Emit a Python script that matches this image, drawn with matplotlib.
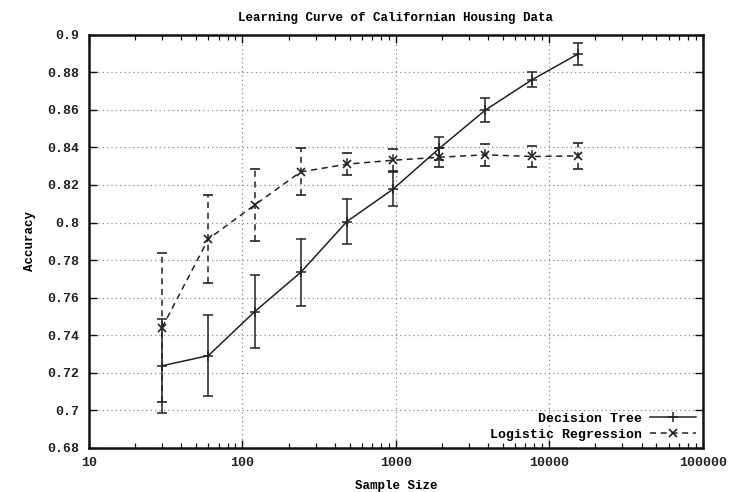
import matplotlib
matplotlib.use('Agg')
import matplotlib.pyplot as plt
from matplotlib.lines import Line2D
from matplotlib.ticker import LogLocator, FixedLocator, FuncFormatter

# data
sizes = [30, 60, 120, 240, 480, 960, 1920, 3840, 7680, 15360]
tree_acc = [0.7236, 0.729, 0.7524, 0.7734, 0.8005, 0.8178, 0.8395, 0.8600, 0.8760, 0.8898]
tree_err = [0.025, 0.0217, 0.0195, 0.018, 0.012, 0.009, 0.006, 0.0062, 0.004, 0.0059]
logreg_acc = [0.744, 0.7912, 0.8093, 0.827, 0.8311, 0.8332, 0.8348, 0.8361, 0.8352, 0.8355]
logreg_err = [0.0395, 0.0235, 0.019, 0.0125, 0.006, 0.006, 0.005, 0.0058, 0.0058, 0.007]
yticks = [0.68, 0.7, 0.72, 0.74, 0.76, 0.78, 0.8, 0.82, 0.84, 0.86, 0.88, 0.9]

font = {'family': 'Liberation Mono', 'weight': 'bold'}

fig = plt.figure(figsize=(7.48, 4.92), dpi=100)
ax = fig.add_axes([0.1189, 0.0904, 0.8205, 0.8385])

lc = '#222222'
dash = (0, (4, 3))
ax.errorbar(sizes, tree_acc, yerr=tree_err, color=lc, lw=1.1, marker='+', ms=7,
            mew=1.1, capsize=3.5, elinewidth=1.1, capthick=1.1)
eb2 = ax.errorbar(sizes, logreg_acc, yerr=logreg_err, color=lc, lw=1.1, ls=dash,
                  marker='x', ms=6, mew=1.2, capsize=3.5, elinewidth=1.1, capthick=1.1)
for bar in eb2[2]:
    bar.set_linestyle(dash)

ax.set_xscale('log')
ax.set_xlim(10, 100000)
ax.set_ylim(0.68, 0.9)
ax.yaxis.set_major_locator(FixedLocator(yticks))
ax.yaxis.set_major_formatter(FuncFormatter(lambda v, p: ('%.2f' % v).rstrip('0')))
ax.xaxis.set_major_locator(LogLocator(base=10))
ax.xaxis.set_minor_locator(LogLocator(base=10, subs=range(2, 10)))
ax.xaxis.set_major_formatter(FuncFormatter(lambda v, p: '%d' % round(v)))

ax.grid(True, which='major', ls=(0, (1, 2.5)), color='#888888', lw=0.9)
ax.tick_params(which='both', direction='in', top=True, right=True, color='#111111')
ax.tick_params(which='major', length=6, width=1.0, pad=7)
ax.tick_params(which='minor', length=3.5, width=0.9)
for sp in ax.spines.values():
    sp.set_linewidth(1.8)
    sp.set_color('#111111')

for lab in ax.get_xticklabels() + ax.get_yticklabels():
    lab.set_fontfamily('Liberation Mono')
    lab.set_fontweight('bold')
    lab.set_fontsize(9.5)
    lab.set_color('#222222')

ax.set_title('Learning Curve of Californian Housing Data', fontdict=font, fontsize=9, pad=10)
ax.set_xlabel('Sample Size', fontdict=font, fontsize=9, labelpad=8)
ax.set_ylabel('Accuracy', fontdict=font, fontsize=9, labelpad=8)

handles = [Line2D([], [], color=lc, lw=1.1, marker='+', ms=7, mew=1.1),
           Line2D([], [], color=lc, lw=1.1, ls=dash, marker='x', ms=6, mew=1.2)]
ax.legend(handles, ['Decision Tree', 'Logistic Regression'], loc='lower right',
          frameon=False, markerfirst=False,
          prop={'family': 'Liberation Mono', 'weight': 'bold', 'size': 9.5},
          handlelength=3.5, labelspacing=0.3, borderaxespad=0.2,
          borderpad=0.3, handletextpad=0.6)

fig.savefig('out.png', dpi=100)
